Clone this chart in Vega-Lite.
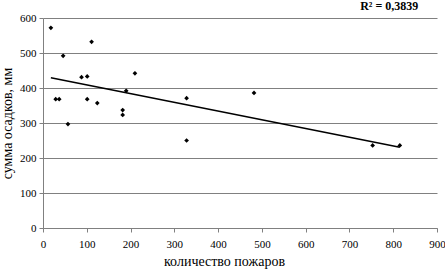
{
  "$schema": "https://vega.github.io/schema/vega-lite/v6.json",
  "width": 394,
  "height": 210,
  "autosize": {"type": "none"},
  "padding": {"left": 43, "top": 18, "right": 8, "bottom": 41},
  "background": "white",
  "config": {
    "view": {"stroke": null},
    "font": "Liberation Serif",
    "axis": {"labelFont": "Liberation Serif", "titleFont": "Liberation Serif", "labelColor": "#000", "titleColor": "#000", "labelFontSize": 11, "titleFontSize": 14, "titleFontWeight": "normal", "labelOverlap": false, "labelFlush": false}
  },
  "title": {"text": "R² = 0,3839", "anchor": "end", "dx": -27, "offset": -1, "fontSize": 12, "font": "Liberation Serif", "fontWeight": "bold", "color": "#000"},
  "datasets": {
    "points": [
      {"fires": 18, "precip": 572},
      {"fires": 46, "precip": 492},
      {"fires": 29, "precip": 368},
      {"fires": 37, "precip": 368},
      {"fires": 57, "precip": 297},
      {"fires": 88, "precip": 431},
      {"fires": 101, "precip": 433},
      {"fires": 101, "precip": 368},
      {"fires": 111, "precip": 532},
      {"fires": 124, "precip": 357},
      {"fires": 182, "precip": 337},
      {"fires": 182, "precip": 323},
      {"fires": 190, "precip": 392},
      {"fires": 210, "precip": 442},
      {"fires": 328, "precip": 371},
      {"fires": 328, "precip": 250},
      {"fires": 482, "precip": 386},
      {"fires": 753, "precip": 236},
      {"fires": 815, "precip": 236}
    ],
    "trend": [
      {"fires": 18, "precip": 429},
      {"fires": 815, "precip": 231}
    ]
  },
  "encoding": {
    "x": {"field": "fires", "type": "quantitative", "scale": {"domain": [0, 900], "nice": false},
      "axis": {"title": "количество пожаров", "values": [0,100,200,300,400,500,600,700,800,900], "grid": false, "domainColor": "#808080", "tickColor": "#808080", "tickSize": 4, "labelPadding": 6, "labelFont": "Liberation Serif", "labelFontSize": 11, "titleFont": "Liberation Serif", "titleFontSize": 14, "titleX": 181, "titleY": 37, "titleBaseline": "alphabetic"}},
    "y": {"field": "precip", "type": "quantitative", "scale": {"domain": [0, 600], "nice": false},
      "axis": {"title": "сумма осадков, мм", "values": [0,100,200,300,400,500,600], "tickCount": 7, "grid": true, "gridColor": "#808080", "gridOpacity": 1, "domainColor": "#808080", "tickColor": "#808080", "tickSize": 4, "labelPadding": 3, "labelOverlap": false, "labelFont": "Liberation Serif", "labelFontSize": 11, "titleFont": "Liberation Serif", "titleFontSize": 14, "titleX": -32, "titleY": 105, "titleAngle": 270, "titleAlign": "center", "titleBaseline": "alphabetic"}}
  },
  "layer": [
    {
      "data": {"name": "trend"},
      "mark": {"type": "line", "color": "#000", "strokeWidth": 1.5}
    },
    {
      "data": {"name": "points"},
      "mark": {"type": "point", "shape": "diamond", "filled": true, "color": "#000", "size": 22, "opacity": 1}
    }
  ]
}
